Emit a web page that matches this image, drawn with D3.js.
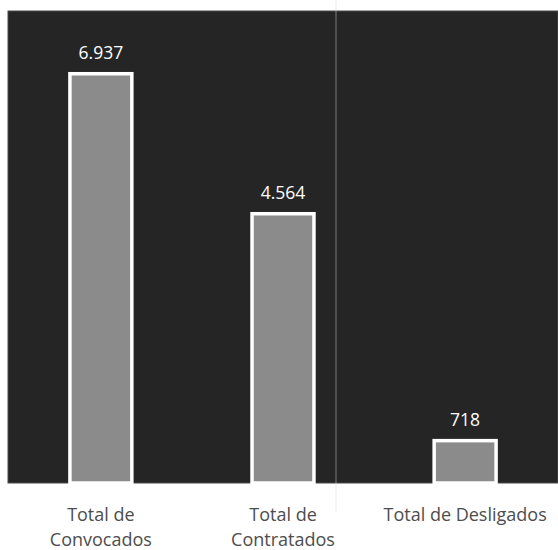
<!DOCTYPE html>
<html>
<head>
<meta charset="utf-8">
<script src="https://cdn.jsdelivr.net/npm/d3@7"></script>
<style>
  body { margin: 0; background: #fff; }
  text { font-family: "Open Sans", sans-serif; }
</style>
</head>
<body>
<script>
const categories = [["Total de", "Convocados"], ["Total de", "Contratados"], ["Total de Desligados"]];
const values = [6937, 4564, 718];
const valueLabels = ["6.937", "4.564", "718"];

// plot area = the dark panel
const margin = {top: 11, right: 0, bottom: 67, left: 8},
    width = 558 - margin.left - margin.right,
    height = 550 - margin.top - margin.bottom;

const svg = d3.select("body").append("svg")
    .attr("width", 558)
    .attr("height", 550);

const g = svg.append("g")
    .attr("transform", "translate(" + margin.left + "," + margin.top + ")");

const x = d3.scaleBand().domain(d3.range(values.length)).range([0, width]).paddingInner(0.66).paddingOuter(0.34);
const y = d3.scaleLinear().domain([0, 8000]).range([height, 0]);

// dark background
g.append("rect")
    .attr("width", width)
    .attr("height", height)
    .attr("fill", "#252525")
    .attr("stroke", "#4a4a4a")
    .attr("stroke-width", 1);

// faint scan line
svg.append("line")
    .attr("x1", 336).attr("x2", 336)
    .attr("y1", 0).attr("y2", 512)
    .attr("stroke", "#d8d8d8")
    .attr("stroke-opacity", 0.5)
    .attr("stroke-width", 1);

// bars
g.selectAll(".bar")
    .data(values)
    .join("rect")
    .attr("class", "bar")
    .attr("x", (d, i) => x(i))
    .attr("y", d => y(d))
    .attr("width", x.bandwidth())
    .attr("height", d => height - y(d))
    .attr("fill", "#8b8b8b")
    .attr("stroke", "#fff")
    .attr("stroke-width", 3.5);

// value labels
g.selectAll(".val")
    .data(values)
    .join("text")
    .attr("class", "val")
    .attr("x", (d, i) => x(i) + x.bandwidth() / 2)
    .attr("y", d => y(d) - 15)
    .attr("text-anchor", "middle")
    .attr("fill", "#fff")
    .style("font-size", "17.5px")
    .text((d, i) => valueLabels[i]);

// category labels under the panel
const axis = svg.append("g")
    .attr("transform", "translate(" + margin.left + "," + (margin.top + height) + ")");

axis.selectAll(".cat")
    .data(categories)
    .join("text")
    .attr("class", "cat")
    .attr("x", (d, i) => x(i) + x.bandwidth() / 2)
    .attr("y", 38)
    .attr("text-anchor", "middle")
    .attr("fill", "#4d4d4d")
    .style("font-size", "18px")
    .selectAll("tspan")
    .data(d => d)
    .join("tspan")
    .attr("x", function () { return d3.select(this.parentNode).attr("x"); })
    .attr("dy", (d, i) => i ? 25 : 0)
    .text(d => d);
</script>
</body>
</html>
